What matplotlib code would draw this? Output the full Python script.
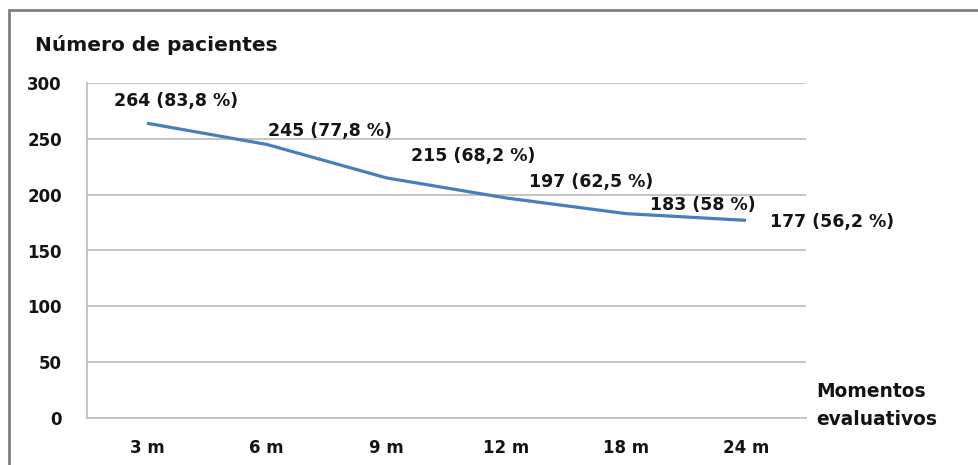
import matplotlib
matplotlib.use("Agg")
import matplotlib.pyplot as plt
from matplotlib.patches import Rectangle

categories = ["3 m", "6 m", "9 m", "12 m", "18 m", "24 m"]
patients = [264, 245, 215, 197, 183, 177]
percent_labels = ["83,8 %", "77,8 %", "68,2 %", "62,5 %", "58 %", "56,2 %"]

# label placement (points, relative to each data point; left-aligned text)
label_offsets = [(-24, 16), (1, 10), (17.5, 15.5), (16, 11.5), (17, 6), (17, -1.5)]

plt.rcParams["font.family"] = ["DejaVu Sans"]

fig = plt.figure(figsize=(9.79, 4.65), dpi=100)
ax = fig.add_axes([87 / 979, 1 - 418 / 465, (806 - 87) / 979, (418 - 83) / 465])

x = list(range(len(categories)))
ax.plot(x, patients, color="#4A7EBB", linewidth=2.3, solid_capstyle="butt", zorder=3)

for xi, val, pct, (dx, dy) in zip(x, patients, percent_labels, label_offsets):
    ax.annotate(f"{val} ({pct})", (xi, val), xytext=(dx, dy), textcoords="offset points",
                ha="left", va="center", fontsize=12.5, fontweight="bold", color="#141414")

ax.set_xlim(-0.5, len(categories) - 0.5)
ax.set_ylim(0, 300)
ax.set_yticks(range(0, 301, 50))
ax.set_xticks(x)
ax.set_xticklabels(categories)
ax.tick_params(axis="both", length=0, labelsize=12, colors="#141414")
for lbl in ax.get_xticklabels() + ax.get_yticklabels():
    lbl.set_fontweight("bold")
ax.tick_params(axis="x", pad=15)
ax.tick_params(axis="y", pad=18)

ax.grid(axis="y", color="#C0C0C0", linewidth=1.3)
ax.set_axisbelow(True)
for side in ("top", "right"):
    ax.spines[side].set_visible(False)
ax.spines["left"].set_color("#C0C0C0")
ax.spines["bottom"].set_color("#C0C0C0")
ax.spines["left"].set_linewidth(1.3)
ax.spines["bottom"].set_linewidth(1.3)

fig.text(35 / 979, 1 - 45 / 465, "Número de pacientes", fontsize=14.5, fontweight="bold",
         color="#141414", va="center", ha="left")
fig.text(816 / 979, 1 - 405 / 465, "Momentos\nevaluativos", fontsize=13.4, fontweight="bold",
         color="#141414", va="center", ha="left", linespacing=1.6)

# outer chart frame
fig.patches.append(Rectangle((9 / 979, -0.1), 2, 1 - 10 / 465 + 0.1, transform=fig.transFigure,
                             fill=False, edgecolor="#808080", linewidth=2))

fig.savefig("out.png", dpi=100)
